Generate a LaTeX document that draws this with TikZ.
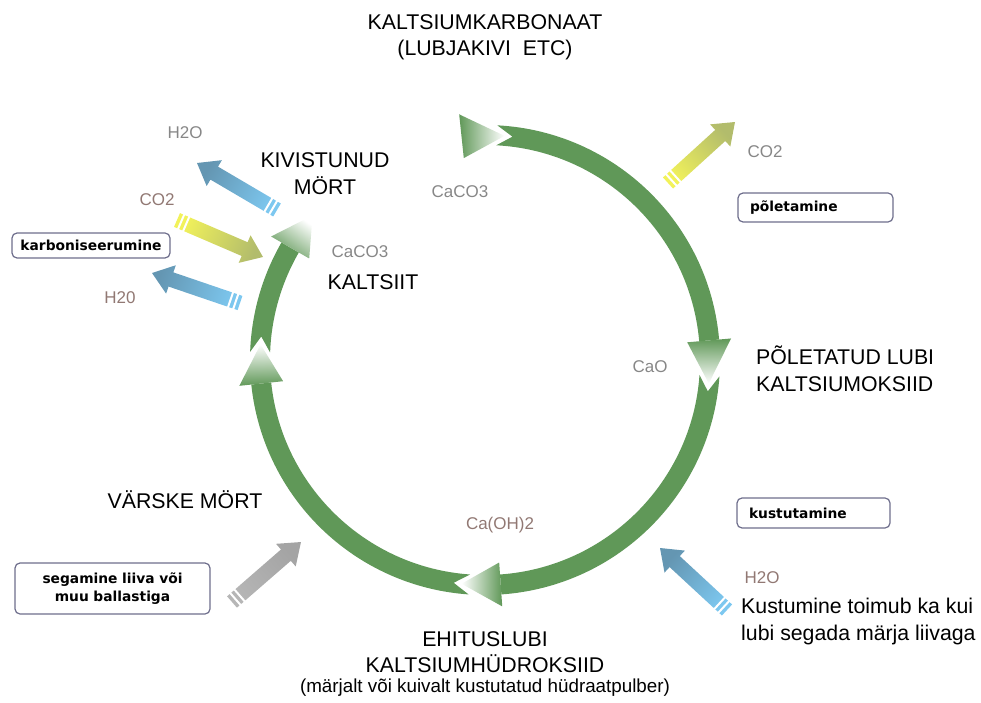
\documentclass[tikz,border=0pt]{standalone}
\usepackage{fontspec}
\setmainfont{Liberation Sans}
\newfontfamily\boxfont{DejaVu Sans}
\usetikzlibrary{calc}
\definecolor{RingGreen}{RGB}{96,152,88}
\definecolor{ChemGrey}{RGB}{135,135,135}
\definecolor{ChemBrown}{RGB}{145,120,115}
\definecolor{BoxLine}{RGB}{110,110,140}
\definecolor{BlueHead}{RGB}{100,150,178}
\definecolor{BlueTail}{RGB}{125,200,240}
\definecolor{YellowTail}{RGB}{242,242,90}
\definecolor{YellowHead}{RGB}{178,188,108}
\definecolor{ArrowGrey}{RGB}{182,182,182}

% fat arrow with tail stripes: tail, head, tail colour, head colour
\newcommand\sidearrow[4]{%
  \path let \p1=($(#2)-(#1)$) in \pgfextra{%
    \pgfmathsetmacro\sarang{atan2(\y1,\x1)}%
    \pgfmathsetmacro\sarlen{veclen(\x1,\y1)}%
    \global\let\sarang\sarang \global\let\sarlen\sarlen};
  \pgfmathsetmacro\sarshade{\sarang-90}
  \begin{scope}[shift={(#1)}, rotate=\sarang]
    \shade[bottom color=#3, top color=#4, shading angle=\sarshade]
      (0,-7.5) -- (\sarlen-20,-7.5) -- (\sarlen-20,-15) -- (\sarlen,0)
      -- (\sarlen-20,15) -- (\sarlen-20,7.5) -- (0,7.5) -- cycle;
    \fill[white] (3.5,-9) rectangle (5.5,9);
    \fill[white] (9,-9) rectangle (11,9);
  \end{scope}}

\begin{document}
\begin{tikzpicture}[
    x=1pt, y=1pt,
    mainlabel/.style={font=\fontsize{21.3}{27}\selectfont, inner sep=0pt},
    smalllabel/.style={font=\fontsize{18.8}{22}\selectfont, inner sep=0pt},
    chemlabel/.style={font=\fontsize{17}{20}\selectfont, text=ChemGrey, inner sep=0pt},
    chembrown/.style={chemlabel, text=ChemBrown},
    stepbox/.style={draw=BoxLine, line width=1.2pt, rounded corners=5pt, fill=white,
                    font=\boxfont\bfseries\fontsize{13.8}{18}\selectfont, inner ysep=0pt}
  ]
  \useasboundingbox (0,0) rectangle (981,702);
  \coordinate (ringc) at (485,342);

  % ring segments with notched tails
  \foreach \s/\e in {87/5, -4/-86, -94/-174, -182/-210}
    \fill[RingGreen] ($(ringc)+(\s:235)$) arc[start angle=\s, end angle=\e, radius=235]
      -- ($(ringc)+(\e:215)$) arc[start angle=\e, end angle=\s, radius=215]
      -- ($(ringc)+(\s-4:225)$) -- cycle;

  % fading heads
  \foreach \b/\t in {96/85, 5/-6, -86/-96, -174/-184, -210/-220}{
    \pgfmathsetmacro\headshade{(\b+\t)/2-180}
    \shade[bottom color=RingGreen, top color=white, shading angle=\headshade]
      ($(ringc)+(\b:203)$) -- ($(ringc)+(\b:247)$) -- ($(ringc)+(\t:225)$) -- cycle;
  }

  % side arrows
  \coordinate (h2outt) at (277,492);  \coordinate (h2outh) at (197,539);
  \coordinate (co2int) at (177,482);  \coordinate (co2inh) at (263,445);
  \coordinate (h2out2t) at (240,399); \coordinate (h2out2h) at (152,429);
  \coordinate (co2outt) at (668,519); \coordinate (co2outh) at (735,580);
  \coordinate (sandt) at (232,100);   \coordinate (sandh) at (301,160);
  \coordinate (h2oint) at (727,92);   \coordinate (h2oinh) at (660,154);
  \sidearrow{h2outt}{h2outh}{BlueTail}{BlueHead}
  \sidearrow{co2int}{co2inh}{YellowTail}{YellowHead}
  \sidearrow{h2out2t}{h2out2h}{BlueTail}{BlueHead}
  \sidearrow{co2outt}{co2outh}{YellowTail}{YellowHead}
  \sidearrow{sandt}{sandh}{ArrowGrey}{ArrowGrey!90!black}
  \sidearrow{h2oint}{h2oinh}{BlueTail}{BlueHead}

  % labels
  \node[mainlabel] (karbonaat) at (485,680) {KALTSIUMKARBONAAT};
  \node[mainlabel] (lubjakivi) at (485,652) {(LUBJAKIVI\ \ ETC)};
  \node[mainlabel, align=center] (kivistunud) at (325,528) {KIVISTUNUD\\MÖRT};
  \node[chemlabel] (caco3top) at (460,510) {CaCO3};
  \node[chemlabel] (caco3left) at (360,450) {CaCO3};
  \node[mainlabel] (kaltsiit) at (373,420) {KALTSIIT};
  \node[chemlabel] (cao) at (650,335) {CaO};
  \node[mainlabel, align=left, anchor=west] (poletatud) at (756,333) {PÕLETATUD LUBI\\KALTSIUMOKSIID};
  \node[chembrown] (caoh2) at (500,177) {Ca(OH)2};
  \node[mainlabel] (varske) at (185,202) {VÄRSKE MÖRT};
  \node[mainlabel] (ehituslubi) at (485,63) {EHITUSLUBI};
  \node[mainlabel] (hudroksiid) at (485,38) {KALTSIUMHÜDROKSIID};
  \node[smalllabel] (pulber) at (485,14) {(märjalt või kuivalt kustutatud hüdraatpulber)};
  \node[mainlabel, align=left, anchor=west] (kustumine) at (741,81) {Kustumine toimub ka kui\\lubi segada märja liivaga};

  \node[chembrown] (h2oin) at (762,124) {H2O};
  \node[chemlabel] (co2out) at (765,550) {CO2};
  \node[chemlabel] (h2oout) at (185,569) {H2O};
  \node[chembrown] (co2in) at (157,502) {CO2};
  \node[chembrown] (h2oout2) at (120,404) {H20};

  % process boxes
  \node[stepbox, text width=146pt, align=center, inner xsep=6pt, minimum height=25pt] (karboniseerumine) at (91,456.5) {karboniseerumine};
  \node[stepbox, text width=131pt, align=left, inner xsep=12pt, minimum height=29pt] (poletamine) at (815.5,494.5) {põletamine};
  \node[stepbox, text width=129pt, align=left, inner xsep=12pt, minimum height=30pt] (kustutamine) at (813.5,189) {kustutamine};
  \node[stepbox, text width=175pt, align=center, inner xsep=10pt, minimum height=51pt] (segamine) at (112.5,113.5) {segamine liiva või\\muu ballastiga};
\end{tikzpicture}
\end{document}
